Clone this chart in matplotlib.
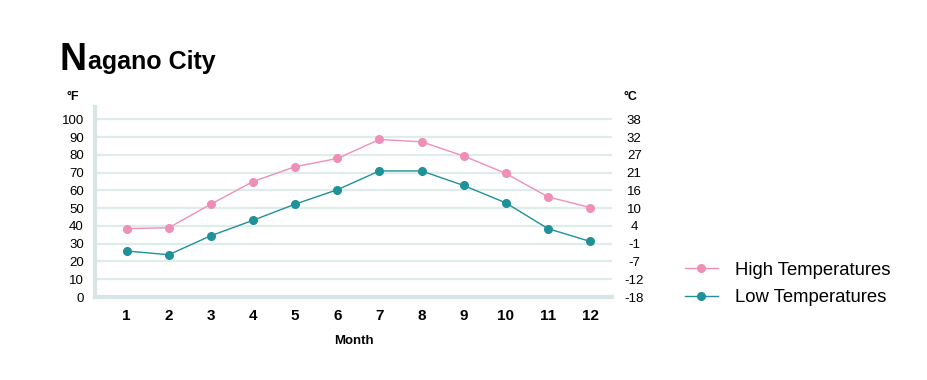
import matplotlib
matplotlib.use("Agg")
import matplotlib.pyplot as plt

months = [1, 2, 3, 4, 5, 6, 7, 8, 9, 10, 11, 12]
high_f = [38.5, 39, 52.3, 65, 73.4, 78, 88.7, 87.4, 79.4, 69.6, 56.4, 50.4]
low_f = [25.9, 23.8, 34.5, 43.2, 52.3, 60.4, 71, 71, 62.8, 53, 38.5, 31.3]
f_ticks = [0, 10, 20, 30, 40, 50, 60, 70, 80, 90, 100]
c_labels = ["-18", "-12", "-7", "-1", "4", "10", "16", "21", "27", "32", "38"]

plt.rcParams['font.family'] = ['Liberation Sans', 'DejaVu Sans']

pink = "#ef8fb8"
teal = "#1f9199"
grid_c = "#dfecec"

fig = plt.figure(figsize=(9.28, 3.8), dpi=100)
ax = fig.add_axes([95/928, 1-297/380, (612-95)/928, (297-107)/380])
ax.set_xlim(0.25, 12.52)
ax.set_ylim(0, 107)

for t in f_ticks:
    ax.axhline(t, color=grid_c, lw=1.6, zorder=0)

ax.plot(months, high_f, color=pink, lw=1, marker='o', ms=5.5, label="High Temperatures", zorder=3)
ax.plot(months, low_f, color=teal, lw=1, marker='o', ms=5.5, label="Low Temperatures", zorder=3)

for s in ['top', 'right']:
    ax.spines[s].set_visible(False)
ax.spines['left'].set_color("#d6e6e6")
ax.spines['left'].set_linewidth(3)
ax.spines['bottom'].set_color("#d6e6e6")
ax.spines['bottom'].set_linewidth(3)

ax.set_xticks(months)
ax.set_xticklabels([str(m) for m in months], fontsize=11, fontweight='bold')
ax.set_yticks(f_ticks)
ax.set_yticklabels([str(t) for t in f_ticks], fontsize=9.5)
ax.tick_params(axis='both', length=0)
ax.tick_params(axis='x', pad=9)
ax.tick_params(axis='y', pad=8)

ax2 = ax.twinx()
ax2.set_ylim(ax.get_ylim())
ax2.set_yticks(f_ticks)
ax2.set_yticklabels(c_labels, fontsize=9.5, ha='center')
ax2.tick_params(axis='y', length=0, pad=16)
for s in ax2.spines.values():
    s.set_visible(False)

ax.set_xlabel("Month", fontsize=9.5, fontweight='bold', labelpad=8)

fig.text(60/928, 1-69.5/380, "N", fontsize=27, fontweight='bold', va='baseline')
fig.text(88/928, 1-69.5/380, "agano City", fontsize=18, fontweight='bold', va='baseline')
fig.text(67/928, 1-97/380, "°F", fontsize=9, fontweight='bold', va='center')
fig.text(624/928, 1-97/380, "°C", fontsize=9, fontweight='bold', va='center')

fig.legend(loc='center left', bbox_to_anchor=(668/928, 1-284/380), frameon=False,
           fontsize=13.3, handlelength=1.8, labelspacing=0.55, handletextpad=0.95)

fig.savefig("out.png", dpi=100)
